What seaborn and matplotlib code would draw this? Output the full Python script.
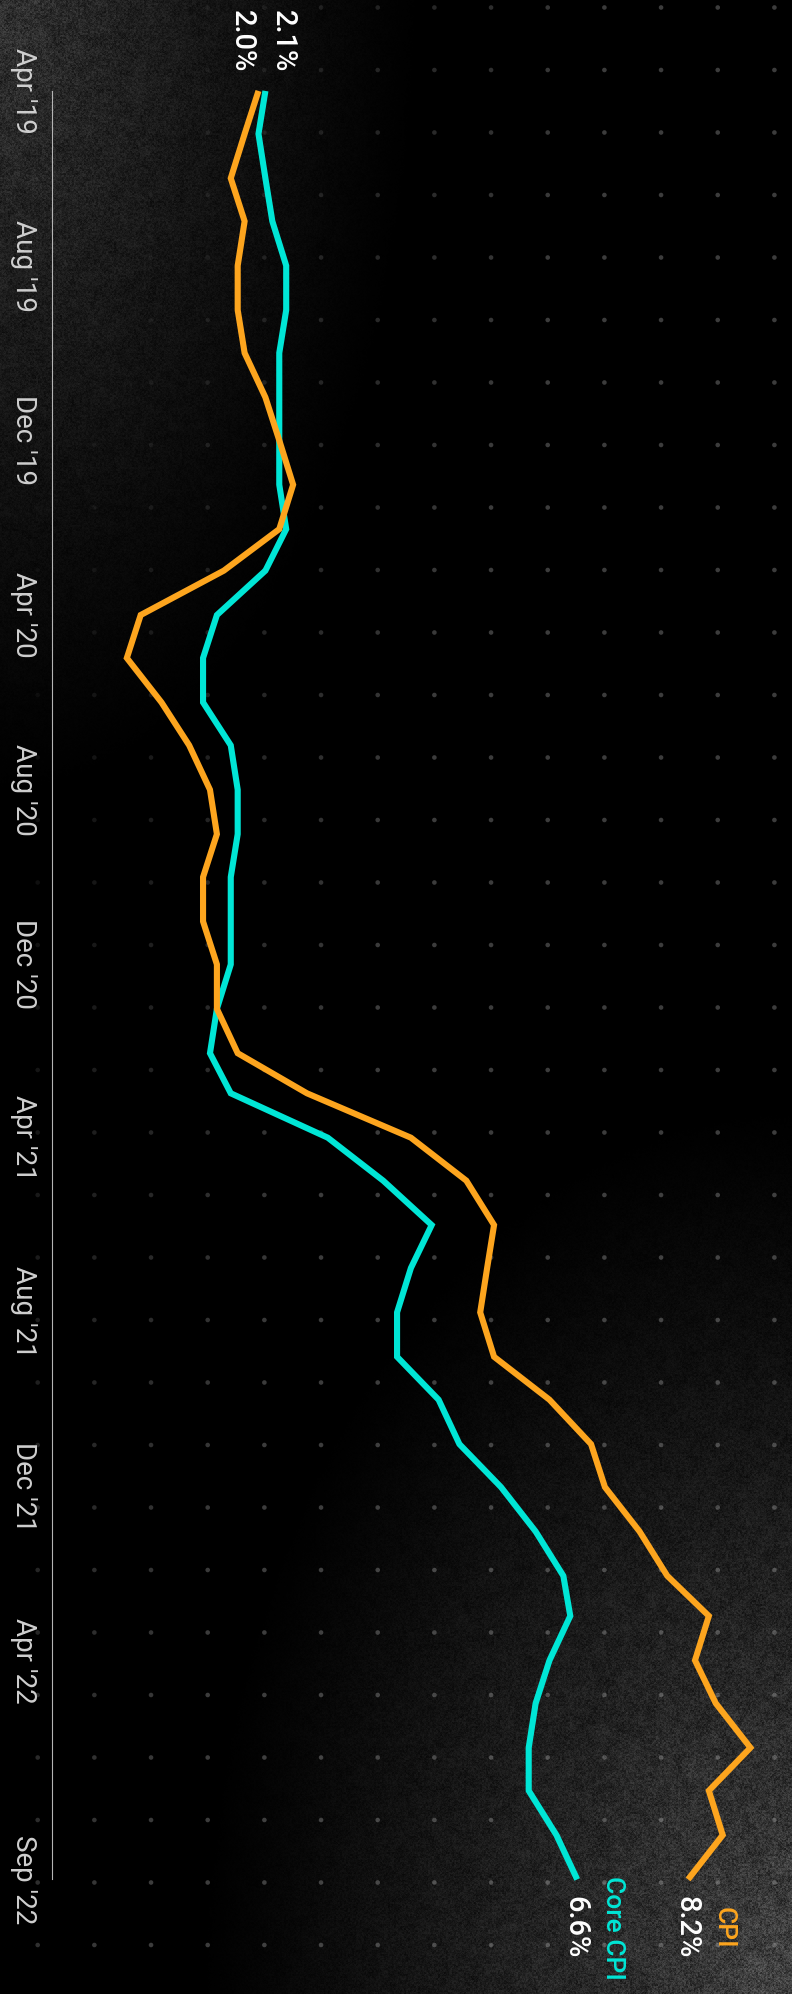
import numpy as np
import pandas as pd
import matplotlib
matplotlib.use("Agg")
import matplotlib.pyplot as plt
import matplotlib.dates as mdates
import seaborn as sns

# Year-over-year inflation (%), monthly, April 2019 - September 2022
months = pd.date_range("2019-04-01", "2022-09-01", freq="MS")
cpi = [2.0, 1.8, 1.6, 1.8, 1.7, 1.7, 1.8, 2.1, 2.3,
       2.5, 2.3, 1.5, 0.3, 0.1, 0.6, 1.0, 1.3, 1.4, 1.2, 1.2, 1.4,
       1.4, 1.7, 2.7, 4.2, 5.0, 5.4, 5.3, 5.2, 5.4, 6.2, 6.8, 7.0,
       7.5, 7.9, 8.5, 8.3, 8.6, 9.1, 8.5, 8.7, 8.2]
core_cpi = [2.1, 2.0, 2.1, 2.2, 2.4, 2.4, 2.3, 2.3, 2.3,
            2.3, 2.4, 2.1, 1.4, 1.2, 1.2, 1.6, 1.7, 1.7, 1.6, 1.6, 1.6,
            1.4, 1.3, 1.6, 3.0, 3.8, 4.5, 4.2, 4.0, 4.0, 4.6, 4.9, 5.5,
            6.0, 6.4, 6.5, 6.2, 6.0, 5.9, 5.9, 6.3, 6.6]
series_names = ["Core CPI", "CPI"]
tick_dates = pd.to_datetime(["2019-04-01", "2019-08-01", "2019-12-01", "2020-04-01",
                             "2020-08-01", "2020-12-01", "2021-04-01", "2021-08-01",
                             "2021-12-01", "2022-04-01", "2022-09-01"])
tick_labels = ["Apr '19", "Aug '19", "Dec '19", "Apr '20", "Aug '20", "Dec '20",
               "Apr '21", "Aug '21", "Dec '21", "Apr '22", "Sep '22"]

ORANGE = "#FDA51E"
CYAN = "#00E6D6"
W, H, DPI = 792, 1994, 100
PT = 72.0 / DPI  # points per pixel

sns.set_theme(style="white")
plt.rcParams["font.family"] = ["Liberation Sans Narrow", "Roboto", "DejaVu Sans"]

fig = plt.figure(figsize=(W / DPI, H / DPI), dpi=DPI, facecolor="black")


def box_blur(a, r):
    k = 2 * r + 1
    p = np.pad(a, r, mode="edge")
    c = np.vstack([np.zeros((1, p.shape[1])), p.cumsum(0)])
    a1 = (c[k:] - c[:-k]) / k
    c = np.hstack([np.zeros((a1.shape[0], 1)), a1.cumsum(1)])
    return (c[:, k:] - c[:, :-k]) / k


# grainy backdrop with haze in two corners
bg = fig.add_axes([0, 0, 1, 1])
bg.set_axis_off()
yy, xx = np.mgrid[0:H, 0:W].astype(float)
rng = np.random.default_rng(11)
fine = rng.random((H, W))
grain = rng.random((H // 2 + 1, W // 2 + 1)).repeat(2, 0).repeat(2, 1)[:H, :W]
cloud = box_blur(rng.random((H // 6 + 1, W // 6 + 1)).repeat(6, 0).repeat(6, 1)[:H, :W], 5)
cloud = (cloud - cloud.min()) / (cloud.max() - cloud.min())
tex = 0.35 * fine + 0.35 * grain + 0.3 * cloud
d1 = np.hypot(xx / 430.0, yy / 820.0)
d2 = np.hypot((W - xx) / 600.0, (H - yy) / 900.0)
haze = 0.21 * np.clip(1 - d1, 0, 1) ** 1.3 + 0.28 * np.clip(1 - d2, 0, 1) ** 1.2
img = np.clip(haze * (0.3 + 1.3 * tex), 0, 1)
bg.imshow(img, cmap="gray", vmin=0, vmax=1, extent=(0, W, H, 0),
          interpolation="nearest", aspect="auto")

# dotted background grid, fading toward the upper left
col_x = 37.7 + 56.67 * np.arange(14)
row_y = 7.5 + 62.5 * np.arange(32)
gx, gy = np.meshgrid(col_x, row_y)
strength = np.clip(1.6 * gx / W + 1.0 * gy / H - 0.25, 0, 1) * 0.24
dot_colors = np.ones((gx.size, 4))
dot_colors[:, 3] = strength.ravel()
bg.scatter(gx.ravel(), gy.ravel(), s=11, c=dot_colors, linewidths=0)
bg.set_xlim(0, W)
bg.set_ylim(H, 0)

# main chart: time runs downward, rate increases to the right
AX_LEFT = 52
ax = fig.add_axes([AX_LEFT / W, 0, 1 - AX_LEFT / W, 1])
ax.patch.set_alpha(0)

t = mdates.date2num(months)
df = pd.DataFrame({
    "date": np.concatenate([t, t]),
    "rate": core_cpi + cpi,
    "series": [series_names[0]] * len(t) + [series_names[1]] * len(t),
})
sns.lineplot(data=df, x="rate", y="date", hue="series", hue_order=series_names,
             palette=[CYAN, ORANGE], orient="y", estimator=None, sort=True,
             linewidth=4.4, legend=False, ax=ax)
for ln in ax.lines:
    ln.set_solid_joinstyle("miter")
    ln.set_solid_capstyle("butt")

t0, t1 = t[0], t[-1]
ax.set_xlim(-0.98, 9.70)
ax.set_ylim(t1 + 80.0, t0 - 63.5)

for side in ["top", "right", "bottom"]:
    ax.spines[side].set_visible(False)
ax.spines["left"].set_bounds(t0, t1)
ax.spines["left"].set_color("#b4b4b4")
ax.spines["left"].set_linewidth(0.8)

ax.set_xticks([])
ax.set_yticks(mdates.date2num(tick_dates))
ax.set_yticklabels(tick_labels)
ax.tick_params(axis="y", length=0, pad=11, labelsize=20, labelcolor="#cfcfcf",
               labelrotation=270)
for lab in ax.get_yticklabels():
    lab.set_va("center")
ax.set_xlabel("")
ax.set_ylabel("")

# starting values
ax.annotate(f"{cpi[0]:.1f}%", xy=(cpi[0], t0), xytext=(-17 * PT, 19 * PT),
            textcoords="offset points", rotation=270, ha="center", va="bottom",
            color="white", fontsize=21, fontweight="medium")
ax.annotate(f"{core_cpi[0]:.1f}%", xy=(core_cpi[0], t0), xytext=(17 * PT, 19 * PT),
            textcoords="offset points", rotation=270, ha="center", va="bottom",
            color="white", fontsize=21, fontweight="medium")

# latest values with series names
for name, vals, color in [("CPI", cpi, ORANGE), ("Core CPI", core_cpi, CYAN)]:
    ax.annotate(f"{vals[-1]:.1f}%", xy=(vals[-1], t1), xytext=(-2 * PT, -48 * PT),
                textcoords="offset points", rotation=270, ha="center", va="center",
                color="white", fontsize=21, fontweight="medium")
    ax.annotate(name, xy=(vals[-1], t1), xytext=(36 * PT, -48 * PT),
                textcoords="offset points", rotation=270, ha="center", va="center",
                color=color, fontsize=19, fontweight="medium")

fig.savefig("out.png", dpi=DPI, facecolor="black")
